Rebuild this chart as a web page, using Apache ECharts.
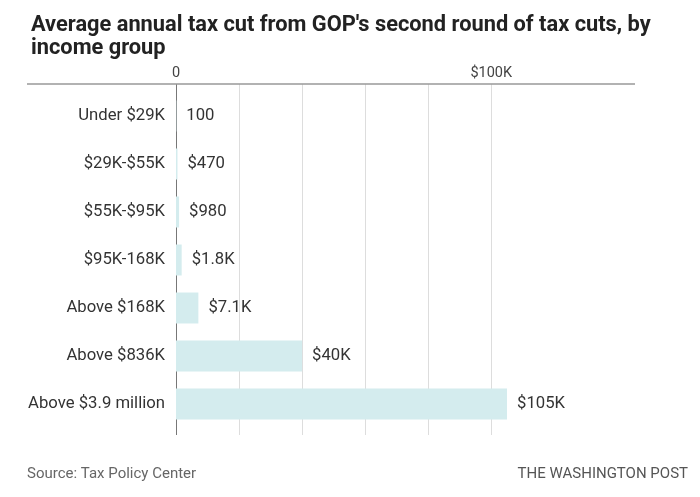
<!DOCTYPE html>
<html><head><meta charset="utf-8">
<script src="https://cdn.jsdelivr.net/npm/echarts@6/dist/echarts.min.js"></script>
<style>html,body{margin:0;padding:0;background:#fff}#c{width:700px;height:497px}</style>
</head><body><div id="c"></div>
<script>
const categories = ['Under $29K','$29K-$55K','$55K-$95K','$95K-168K','Above $168K','Above $836K','Above $3.9 million'];
const values = [100, 470, 980, 1800, 7100, 40000, 105000];
const valueLabels = ['100','$470','$980','$1.8K','$7.1K','$40K','$105K'];
const tickLabels = {0:'0', 100000:'$100K'};

const X0 = 176, XR = 65, AXMAX = 145600;
const FONT = 'Roboto, "Liberation Sans", sans-serif';
const T = 'rgba(0,0,0,0)';
const chart = echarts.init(document.getElementById('c'));
chart.setOption({
  animation:false,
  backgroundColor:'#fff',
  title:{text:"Average annual tax cut from GOP's second round of tax cuts, by\nincome group",left:26,top:9,
    textStyle:{fontFamily:'Roboto, sans-serif',fontWeight:'bold',fontSize:21.8,color:'#222',lineHeight:23}},
  grid:[
    {left:X0,right:XR,top:92,height:336},
    {left:X0,right:XR,top:84,height:351}
  ],
  xAxis:[
    {gridIndex:0,type:'value',min:0,max:AXMAX,interval:20000,position:'top',
      axisLine:{show:false},axisTick:{show:false},splitLine:{show:false},
      axisLabel:{margin:11,fontFamily:FONT,fontSize:14.5,color:'#444',
        formatter:v=>tickLabels[v]!==undefined?tickLabels[v]:''}},
    {gridIndex:1,type:'value',min:0,max:AXMAX,interval:20000,
      axisLine:{show:false},axisTick:{show:false},axisLabel:{show:false},
      splitLine:{show:true,lineStyle:{width:1,color:['#777','#ddd','#ddd','#ddd','#ddd','#ddd',T,T,T,T]}}}
  ],
  yAxis:[
    {gridIndex:0,type:'category',data:categories,inverse:true,
      axisLine:{show:false},axisTick:{show:false},
      axisLabel:{margin:11,fontFamily:FONT,fontSize:16.7,color:'#333'}},
    {gridIndex:1,type:'value',min:0,max:1,show:false}
  ],
  graphic:[{type:'line',shape:{x1:27,y1:84,x2:635,y2:84},style:{stroke:'#999',lineWidth:1.5},z:10},
    {type:'text',left:27,top:467,style:{text:'Source: Tax Policy Center',fontFamily:FONT,fontSize:15,fill:'#666'}},
    {type:'text',right:12,top:467,style:{text:'THE WASHINGTON POST',fontFamily:FONT,fontSize:15,fill:'#555'}}
  ],
  series:[{type:'bar',xAxisIndex:0,yAxisIndex:0,data:values,barWidth:31,
    itemStyle:{color:'#d4ecee'},
    label:{show:true,position:'right',distance:10,fontFamily:FONT,fontSize:16.7,color:'#333',
      formatter:p=>valueLabels[p.dataIndex]}}]
});
</script></body></html>
